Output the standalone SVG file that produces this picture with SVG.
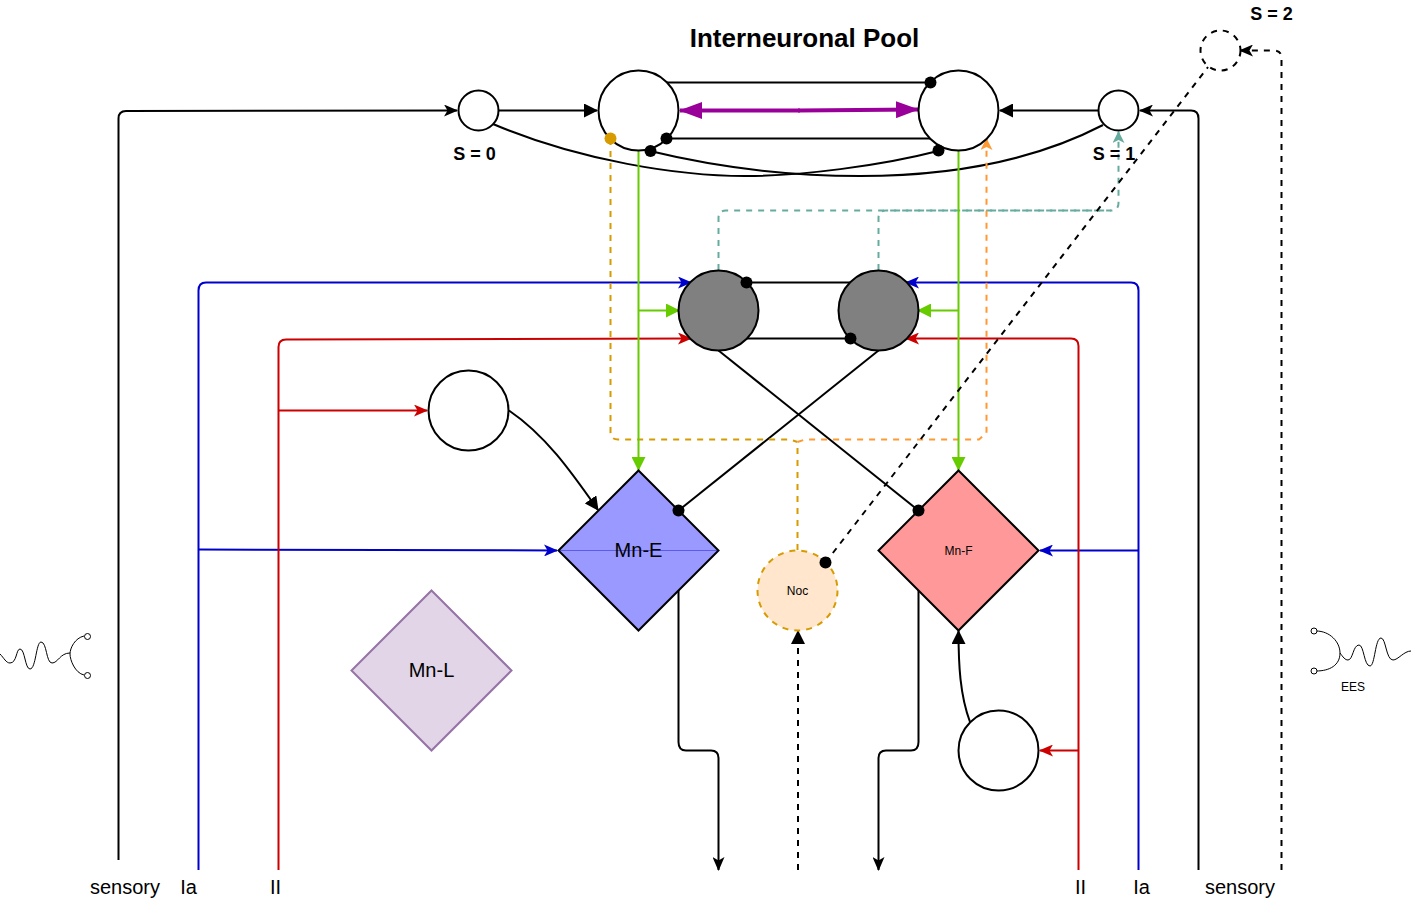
<svg xmlns="http://www.w3.org/2000/svg" width="1412" height="899" viewBox="0 0 1412 899">
<style>
text{font-family:"Liberation Sans",Arial,sans-serif;fill:#000}
.b{font-weight:bold;font-size:18px}
.l{font-size:20px}
.c{fill:none;stroke-width:2}
.k{stroke:#000}.bl{stroke:#0000CC}.r{stroke:#CC0000}.g{stroke:#66CC00}
.d{stroke-dasharray:6 6}
.or{stroke:#FF9933}.go{stroke:#D79B00}.te{stroke:#67AB9F}
.n{stroke:#000;stroke-width:2;fill:#fff}
.w{fill:none;stroke:#000;stroke-width:1}
</style>
<defs>
<marker id="ak" viewBox="0 0 14 12" refX="13" refY="6" markerWidth="14" markerHeight="12" markerUnits="userSpaceOnUse" orient="auto"><path d="M0 0L14 6L0 12L3.5 6Z" fill="#000"/></marker>
<marker id="akb" viewBox="0 0 14 14" refX="13" refY="7" markerWidth="14" markerHeight="14" markerUnits="userSpaceOnUse" orient="auto"><path d="M0 0L14 7L0 14Z" fill="#000"/></marker>
<marker id="abl" viewBox="0 0 14 12" refX="13" refY="6" markerWidth="14" markerHeight="12" markerUnits="userSpaceOnUse" orient="auto"><path d="M0 0L14 6L0 12L3.5 6Z" fill="#0000CC"/></marker>
<marker id="ar" viewBox="0 0 14 12" refX="13" refY="6" markerWidth="14" markerHeight="12" markerUnits="userSpaceOnUse" orient="auto"><path d="M0 0L14 6L0 12L3.5 6Z" fill="#CC0000"/></marker>
<marker id="ag" viewBox="0 0 14 14" refX="13" refY="7" markerWidth="14" markerHeight="14" markerUnits="userSpaceOnUse" orient="auto"><path d="M0 0L14 7L0 14Z" fill="#66CC00"/></marker>
<marker id="aor" viewBox="0 0 12 12" refX="11" refY="6" markerWidth="12" markerHeight="12" markerUnits="userSpaceOnUse" orient="auto"><path d="M0 0L12 6L0 12L3 6Z" fill="#FF9933"/></marker>
<marker id="ate" viewBox="0 0 12 12" refX="11" refY="6" markerWidth="12" markerHeight="12" markerUnits="userSpaceOnUse" orient="auto"><path d="M0 0L12 6L0 12L3 6Z" fill="#67AB9F"/></marker>
<marker id="ap" viewBox="0 0 23 17" refX="22" refY="8.500" markerWidth="23" markerHeight="17" markerUnits="userSpaceOnUse" orient="auto"><path d="M0 0L23 8.500L0 17Z" fill="#990099"/></marker>
</defs>

<g id="connectors">
<path class="c k" d="M118.500 860V118.500Q118.500 111 126 111L457 110.500" marker-end="url(#ak)"/>
<path class="c k" d="M498.500 110.500H597" marker-end="url(#akb)"/>
<path class="c k" d="M1198.500 870V118.500Q1198.500 110.500 1191 110.500H1140" marker-end="url(#ak)"/>
<path class="c k" d="M1098.500 110.500H1000" marker-end="url(#akb)"/>
<path class="c k" d="M666 82.500H930"/>
<path class="c k" d="M666 138.500H930"/>
<path class="c k" d="M493 124C580 161 680 176 745 176C800 176 880 166 938 151"/>
<path class="c k" d="M1103 125C1020 168 930 176 860 176C790 176 720 168 650 151"/>
<path d="M800 110.500H680" fill="none" stroke="#990099" stroke-width="4" marker-end="url(#ap)"/>
<path d="M798 110.500L918 109.500" fill="none" stroke="#990099" stroke-width="4" marker-end="url(#ap)"/>
<path class="c bl" d="M198.500 870V290.500Q198.500 282.500 206 282.500H691" marker-end="url(#abl)"/>
<path class="c bl" d="M1138.500 870V290.500Q1138.500 282.500 1131 282.500H906" marker-end="url(#abl)"/>
<path class="c bl" d="M198.500 549.500L557 550.500" marker-end="url(#abl)"/>
<path class="c bl" d="M1138.500 550.500H1040" marker-end="url(#abl)"/>
<path class="c r" d="M278.500 870V347Q278.500 339.500 286 339.500L691 338.500" marker-end="url(#ar)"/>
<path class="c r" d="M1078.500 870V346Q1078.500 338.500 1071 338.500H906" marker-end="url(#ar)"/>
<path class="c r" d="M278.500 410.500H427" marker-end="url(#ar)"/>
<path class="c r" d="M1078.500 750.500H1040" marker-end="url(#ar)"/>
<path class="c k" d="M746.500 282.500H866"/>
<path class="c k" d="M746 338.500H850.500"/>
<path class="c k" d="M718.500 350.500L918.500 510.500"/>
<path class="c k" d="M878.500 350.500L678.500 510.500"/>
<path class="c te d" d="M718.500 270V218Q718.500 210.500 726 210.500H1111Q1118.500 210.500 1118.500 203V132" marker-end="url(#ate)"/>
<path class="c te d" d="M878.500 270V218Q878.500 210.500 886 210.500H1111"/>
<path class="c go d" d="M797.500 550V442"/>
<path class="c go d" d="M610.500 139V432Q610.500 439.500 618 439.500H790L797.500 442"/>
<path class="c or d" d="M797.500 442L805 439.500H979L986.500 433V139" marker-end="url(#aor)"/>
<path class="c g" d="M638.500 151V470" marker-end="url(#ag)"/>
<path class="c g" d="M958.500 151V470" marker-end="url(#ag)"/>
<path class="c g" d="M638.500 310.500H679" marker-end="url(#ag)"/>
<path class="c g" d="M958.500 310.500H918" marker-end="url(#ag)"/>
<path class="c k" d="M509 410.500C545 435 570 470 598 510" marker-end="url(#akb)"/>
<path class="c k" d="M970 722C960 695 958.500 665 958.500 631" marker-end="url(#akb)"/>
<path class="c k" d="M678.500 590V742Q678.500 750.500 686 750.500H711Q718.500 750.500 718.500 758V870" marker-end="url(#ak)"/>
<path class="c k" d="M918.500 590V742Q918.500 750.500 911 750.500H886Q878.500 750.500 878.500 758V870" marker-end="url(#ak)"/>
<path class="c k d" d="M798 870V631" marker-end="url(#akb)"/>
<path class="c k d" d="M825.500 562.500L1208 67"/>
<path class="c k d" d="M1281.500 870V58Q1281.500 50.500 1274 50.500H1240" marker-end="url(#ak)"/>
</g>

<g id="s0"><circle class="n" cx="478.500" cy="110.500" r="20"/></g>
<g id="s1"><circle class="n" cx="1118.500" cy="110.500" r="20"/></g>
<g id="s2"><circle cx="1220.500" cy="50.500" r="20" fill="#fff" stroke="#000" stroke-width="2" stroke-dasharray="6 6"/></g>
<g id="pool-left"><circle class="n" cx="638.500" cy="110.500" r="40"/></g>
<g id="pool-right"><circle class="n" cx="958.500" cy="110.500" r="40"/></g>
<g id="gray-left"><circle class="n" style="fill:#808080" cx="718.500" cy="310.500" r="40"/></g>
<g id="gray-right"><circle class="n" style="fill:#808080" cx="878.500" cy="310.500" r="40"/></g>
<g id="inter-left"><circle class="n" cx="468.500" cy="410.500" r="40"/></g>
<g id="inter-right"><circle class="n" cx="998.500" cy="750.500" r="40"/></g>
<g id="mn-e"><path d="M638.500 470.500L718.500 550.500L638.500 630.500L558.500 550.500Z" fill="#9999FF" stroke="#000" stroke-width="2"/><path d="M558.500 550.500H718.500" stroke="#0000CC" stroke-opacity="0.4" stroke-width="1"/><text x="638.500" y="557" text-anchor="middle" style="font-size:20px">Mn-E</text></g>
<g id="mn-f"><path d="M958.500 470.500L1038.500 550.500L958.500 630.500L878.500 550.500Z" fill="#FF9999" stroke="#000" stroke-width="2"/><text x="958.500" y="554.500" text-anchor="middle" style="font-size:12px">Mn-F</text></g>
<g id="mn-l"><path d="M431.500 590.500L511.500 670.500L431.500 750.500L351.500 670.500Z" fill="#E1D5E7" stroke="#9673A6" stroke-width="2"/><text x="431.500" y="677" text-anchor="middle" style="font-size:20px">Mn-L</text></g>
<g id="noc"><circle cx="797.500" cy="590.500" r="40" fill="#FFE6CC" stroke="#D79B00" stroke-width="2" stroke-dasharray="6 6"/><text x="797.500" y="594.500" text-anchor="middle" style="font-size:12px">Noc</text></g>

<g id="synapses" fill="#000">
<circle cx="930.500" cy="82.500" r="6"/>
<circle cx="666.500" cy="138.500" r="6"/>
<circle cx="650.500" cy="151" r="6"/>
<circle cx="938.500" cy="150.500" r="6"/>
<circle cx="610.500" cy="138.500" r="6" fill="#D79B00"/>
<circle cx="746.500" cy="282.500" r="6"/>
<circle cx="850.500" cy="338.500" r="6"/>
<circle cx="678.500" cy="510.500" r="6"/>
<circle cx="918.500" cy="510.500" r="6"/>
<circle cx="825.500" cy="562.500" r="6"/>
</g>

<g id="stim-left">
<path class="w" d="M0 654C4 658 6 663 10 663C17 663 16 649 20 649C25 649 25 669 30 669C36 669 36 642 41 642C47 642 46 663 52 663C58 663 60 653 70 653"/>
<path class="w" d="M84 636C75 638 70 648 70 654C70 660 75 673 84 675"/>
<circle cx="87.500" cy="636.500" r="3" fill="#fff" stroke="#000" stroke-width="1"/>
<circle cx="87.500" cy="675.500" r="3" fill="#fff" stroke="#000" stroke-width="1"/>
</g>
<g id="stim-right">
<path class="w" d="M1411 651C1404 651 1398 660 1393 660C1386 660 1386 638 1381 638C1375 638 1375 666 1370 666C1364 666 1364 645 1359 645C1353 645 1353 660 1348 660C1345 660 1343 657 1340 653"/>
<path class="w" d="M1316 631C1330 631 1340 642 1340 653C1340 665 1330 671 1316 671"/>
<circle cx="1314" cy="631" r="3" fill="#fff" stroke="#000" stroke-width="1"/>
<circle cx="1314" cy="671" r="3" fill="#fff" stroke="#000" stroke-width="1"/>
<text x="1353" y="691" text-anchor="middle" style="font-size:12px">EES</text>
</g>

<g id="labels">
<text x="804.500" y="47" text-anchor="middle" style="font-size:26px;font-weight:bold">Interneuronal Pool</text>
<text class="b" x="474.500" y="160" text-anchor="middle">S = 0</text>
<text class="b" x="1114" y="160" text-anchor="middle">S = 1</text>
<text class="b" x="1271.500" y="20" text-anchor="middle">S = 2</text>
<text class="l" x="125" y="894" text-anchor="middle">sensory</text>
<text class="l" x="188.500" y="894" text-anchor="middle">Ia</text>
<text class="l" x="275.500" y="894" text-anchor="middle">II</text>
<text class="l" x="1080.500" y="894" text-anchor="middle">II</text>
<text class="l" x="1141.500" y="894" text-anchor="middle">Ia</text>
<text class="l" x="1240" y="894" text-anchor="middle">sensory</text>
</g>
</svg>
